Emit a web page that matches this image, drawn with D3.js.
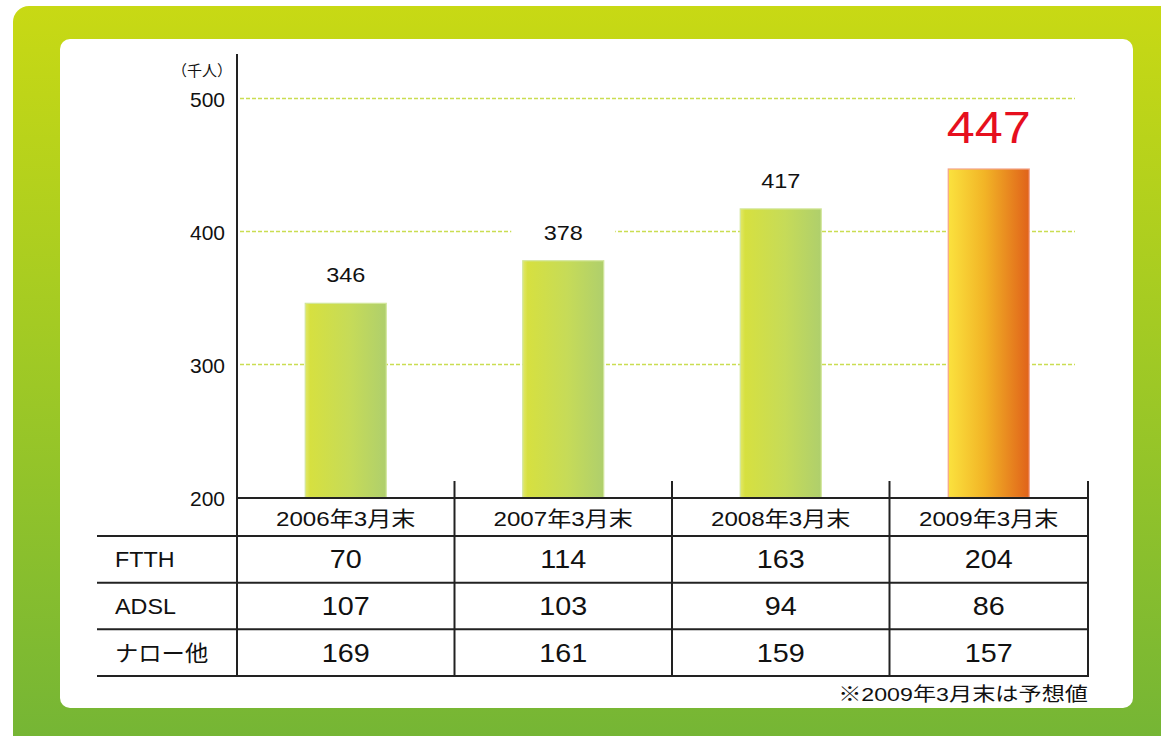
<!DOCTYPE html>
<html>
<head>
<meta charset="utf-8">
<script src="https://cdn.jsdelivr.net/npm/d3@7"></script>
<style>
  html, body { margin: 0; padding: 0; background: #ffffff; }
  svg { display: block; }
  text { font-family: "Liberation Sans", Arial, "Noto Sans CJK JP", sans-serif; fill: #111111; }
</style>
</head>
<body>
<svg id="chart" width="1161" height="736"></svg>
<script>
// ---- data ----
const categories = ["2006年3月末", "2007年3月末", "2008年3月末", "2009年3月末"];
const totals = [346, 378, 417, 447];
const rowLabels = ["FTTH", "ADSL", "ナロー他"];
const ftth = [70, 114, 163, 204];
const adsl = [107, 103, 94, 86];
const narrow = [169, 161, 159, 157];
const yTicks = [200, 300, 400, 500];
const gridTicks = [300, 400, 500];
const unitLabel = "（千人）";
const footnote = "※2009年3月末は予想値";
const forecastIndex = 3;

const tableRows = [ftth, adsl, narrow];

const svg = d3.select("#chart");
const defs = svg.append("defs");

// background gradient
const bg = defs.append("linearGradient").attr("id", "bgGrad").attr("x1", 0).attr("y1", 0).attr("x2", 0).attr("y2", 1);
bg.append("stop").attr("offset", "0%").attr("stop-color", "#c8d914");
bg.append("stop").attr("offset", "50%").attr("stop-color", "#9dc826");
bg.append("stop").attr("offset", "100%").attr("stop-color", "#72b436");

const gGreen = defs.append("linearGradient").attr("id", "barGreen").attr("x1", 0).attr("y1", 0).attr("x2", 1).attr("y2", 0);
gGreen.append("stop").attr("offset", "0%").attr("stop-color", "#e2e86a");
gGreen.append("stop").attr("offset", "6%").attr("stop-color", "#d6e040");
gGreen.append("stop").attr("offset", "55%").attr("stop-color", "#c6db58");
gGreen.append("stop").attr("offset", "100%").attr("stop-color", "#afcf6c");

const gOrange = defs.append("linearGradient").attr("id", "barOrange").attr("x1", 0).attr("y1", 0).attr("x2", 1).attr("y2", 0);
gOrange.append("stop").attr("offset", "0%").attr("stop-color", "#fbe23e");
gOrange.append("stop").attr("offset", "45%").attr("stop-color", "#f2b426");
gOrange.append("stop").attr("offset", "100%").attr("stop-color", "#e0621a");

// outer green panel and inner white panel
svg.append("rect").attr("x", 13).attr("y", 6).attr("width", 1180).attr("height", 760)
  .attr("rx", 16).attr("fill", "url(#bgGrad)");
svg.append("rect").attr("x", 60).attr("y", 39).attr("width", 1073).attr("height", 669)
  .attr("rx", 10).attr("fill", "#ffffff");

// helper: place horizontally-stretched text
function place(sel, fx, fy, sx) {
  sel.attr("transform", (d, i) => `translate(${fx(d, i)},${fy(d, i)}) scale(${sx},1)`);
}

// ---- scales ----
const tableLeft = 237, tableRight = 1088, rowLabelX = 98;
const y = d3.scaleLinear().domain([200, 500]).range([497.5, 98.5]);
const x = d3.scaleBand().domain(categories).range([tableLeft, 1107]).paddingInner(0).paddingOuter(0);
const cellL = c => x(c);
const cellR = c => Math.min(x(c) + x.bandwidth(), tableRight);
const cellC = c => (cellL(c) + cellR(c)) / 2;
const barW = 81;

const headerTop = 498, headerBottom = 536, tableBottom = 676;
const rowY = d3.scaleBand().domain(rowLabels).range([headerBottom, tableBottom]);

// gridlines
svg.append("g").selectAll("line").data(gridTicks).join("line")
  .attr("x1", 240).attr("x2", 1075)
  .attr("y1", d => y(d)).attr("y2", d => y(d))
  .attr("stroke", "#cadd52").attr("stroke-width", 1.6).attr("stroke-dasharray", "4,2");

// label backgrounds (gaps in gridlines)
svg.append("g").selectAll("rect").data(totals).join("rect")
  .attr("x", (d, i) => cellC(categories[i]) - 52)
  .attr("width", 104)
  .attr("y", (d, i) => i === forecastIndex ? y(d) - 62 : y(d) - 40)
  .attr("height", (d, i) => i === forecastIndex ? 44 : 26)
  .attr("fill", "#ffffff");

// bars
svg.append("g").selectAll("rect").data(totals).join("rect")
  .attr("x", (d, i) => cellC(categories[i]) - barW / 2)
  .attr("width", barW)
  .attr("y", d => y(d))
  .attr("height", d => y(200) - y(d))
  .attr("fill", (d, i) => i === forecastIndex ? "url(#barOrange)" : "url(#barGreen)")
  .attr("stroke", (d, i) => i === forecastIndex ? "#f4a48c" : "#d2e69a")
  .attr("stroke-width", 1.2);

// bar value labels
const barLabels = svg.append("g").selectAll("text").data(totals).join("text")
  .attr("text-anchor", "middle")
  .attr("font-size", (d, i) => i === forecastIndex ? 45 : 21)
  .style("fill", (d, i) => i === forecastIndex ? "#e60f1e" : "#111111")
  .text(d => d);
place(barLabels, (d, i) => cellC(categories[i]), (d, i) => i === forecastIndex ? y(d) - 26 : y(d) - 21, 1.12);

// y axis labels
const yAxis = d3.axisLeft(y).tickValues(yTicks).tickSize(0).tickPadding(12).tickFormat(d3.format("d"));
const ag = svg.append("g").attr("transform", `translate(${tableLeft},0)`).call(yAxis);
ag.select(".domain").remove();
ag.selectAll("text").attr("font-size", 21).attr("font-family", null).style("fill", "#111111").attr("dy", "0.36em");

svg.append("text").attr("x", 232).attr("y", 76).attr("text-anchor", "end")
  .attr("font-size", 15).style("font-family", "'Noto Sans CJK JP', sans-serif").text(unitLabel);

// table lines
const lines = svg.append("g").attr("stroke", "#222").attr("stroke-width", 2).attr("stroke-linecap", "square");
lines.append("line").attr("x1", tableLeft).attr("x2", tableLeft).attr("y1", 55).attr("y2", tableBottom);
lines.selectAll("line.col").data(categories).join("line").attr("class", "col")
  .attr("x1", c => cellR(c)).attr("x2", c => cellR(c)).attr("y1", 482).attr("y2", tableBottom);
lines.append("line").attr("x1", tableLeft).attr("x2", tableRight).attr("y1", headerTop).attr("y2", headerTop);
lines.selectAll("line.row").data(rowLabels).join("line").attr("class", "row")
  .attr("x1", rowLabelX).attr("x2", tableRight)
  .attr("y1", r => rowY(r)).attr("y2", r => rowY(r));
lines.append("line").attr("x1", rowLabelX).attr("x2", tableRight).attr("y1", tableBottom).attr("y2", tableBottom);

// header texts
const headers = svg.append("g").selectAll("text").data(categories).join("text")
  .attr("dy", "0.36em").attr("text-anchor", "middle").attr("font-size", 21).text(c => c);
place(headers, c => cellC(c), () => (headerTop + headerBottom) / 2 + 1, 1.15);

// row labels
const rl = svg.append("g").selectAll("text").data(rowLabels).join("text")
  .attr("dy", "0.36em").attr("font-size", 22).text(r => r);
place(rl, () => 115, r => rowY(r) + rowY.bandwidth() / 2, 1.06);

// table values
tableRows.forEach((vals, ri) => {
  const t = svg.append("g").selectAll("text").data(vals).join("text")
    .attr("dy", "0.36em").attr("text-anchor", "middle").attr("font-size", 25).text(d => d);
  place(t, (d, i) => cellC(categories[i]), () => rowY(rowLabels[ri]) + rowY.bandwidth() / 2, 1.15);
});

// footnote
const fn = svg.append("text").attr("dy", "0.36em")
  .attr("text-anchor", "end").attr("font-size", 19).text(footnote);
place(fn, () => tableRight, () => 694, 1.22);
</script>
</body>
</html>
